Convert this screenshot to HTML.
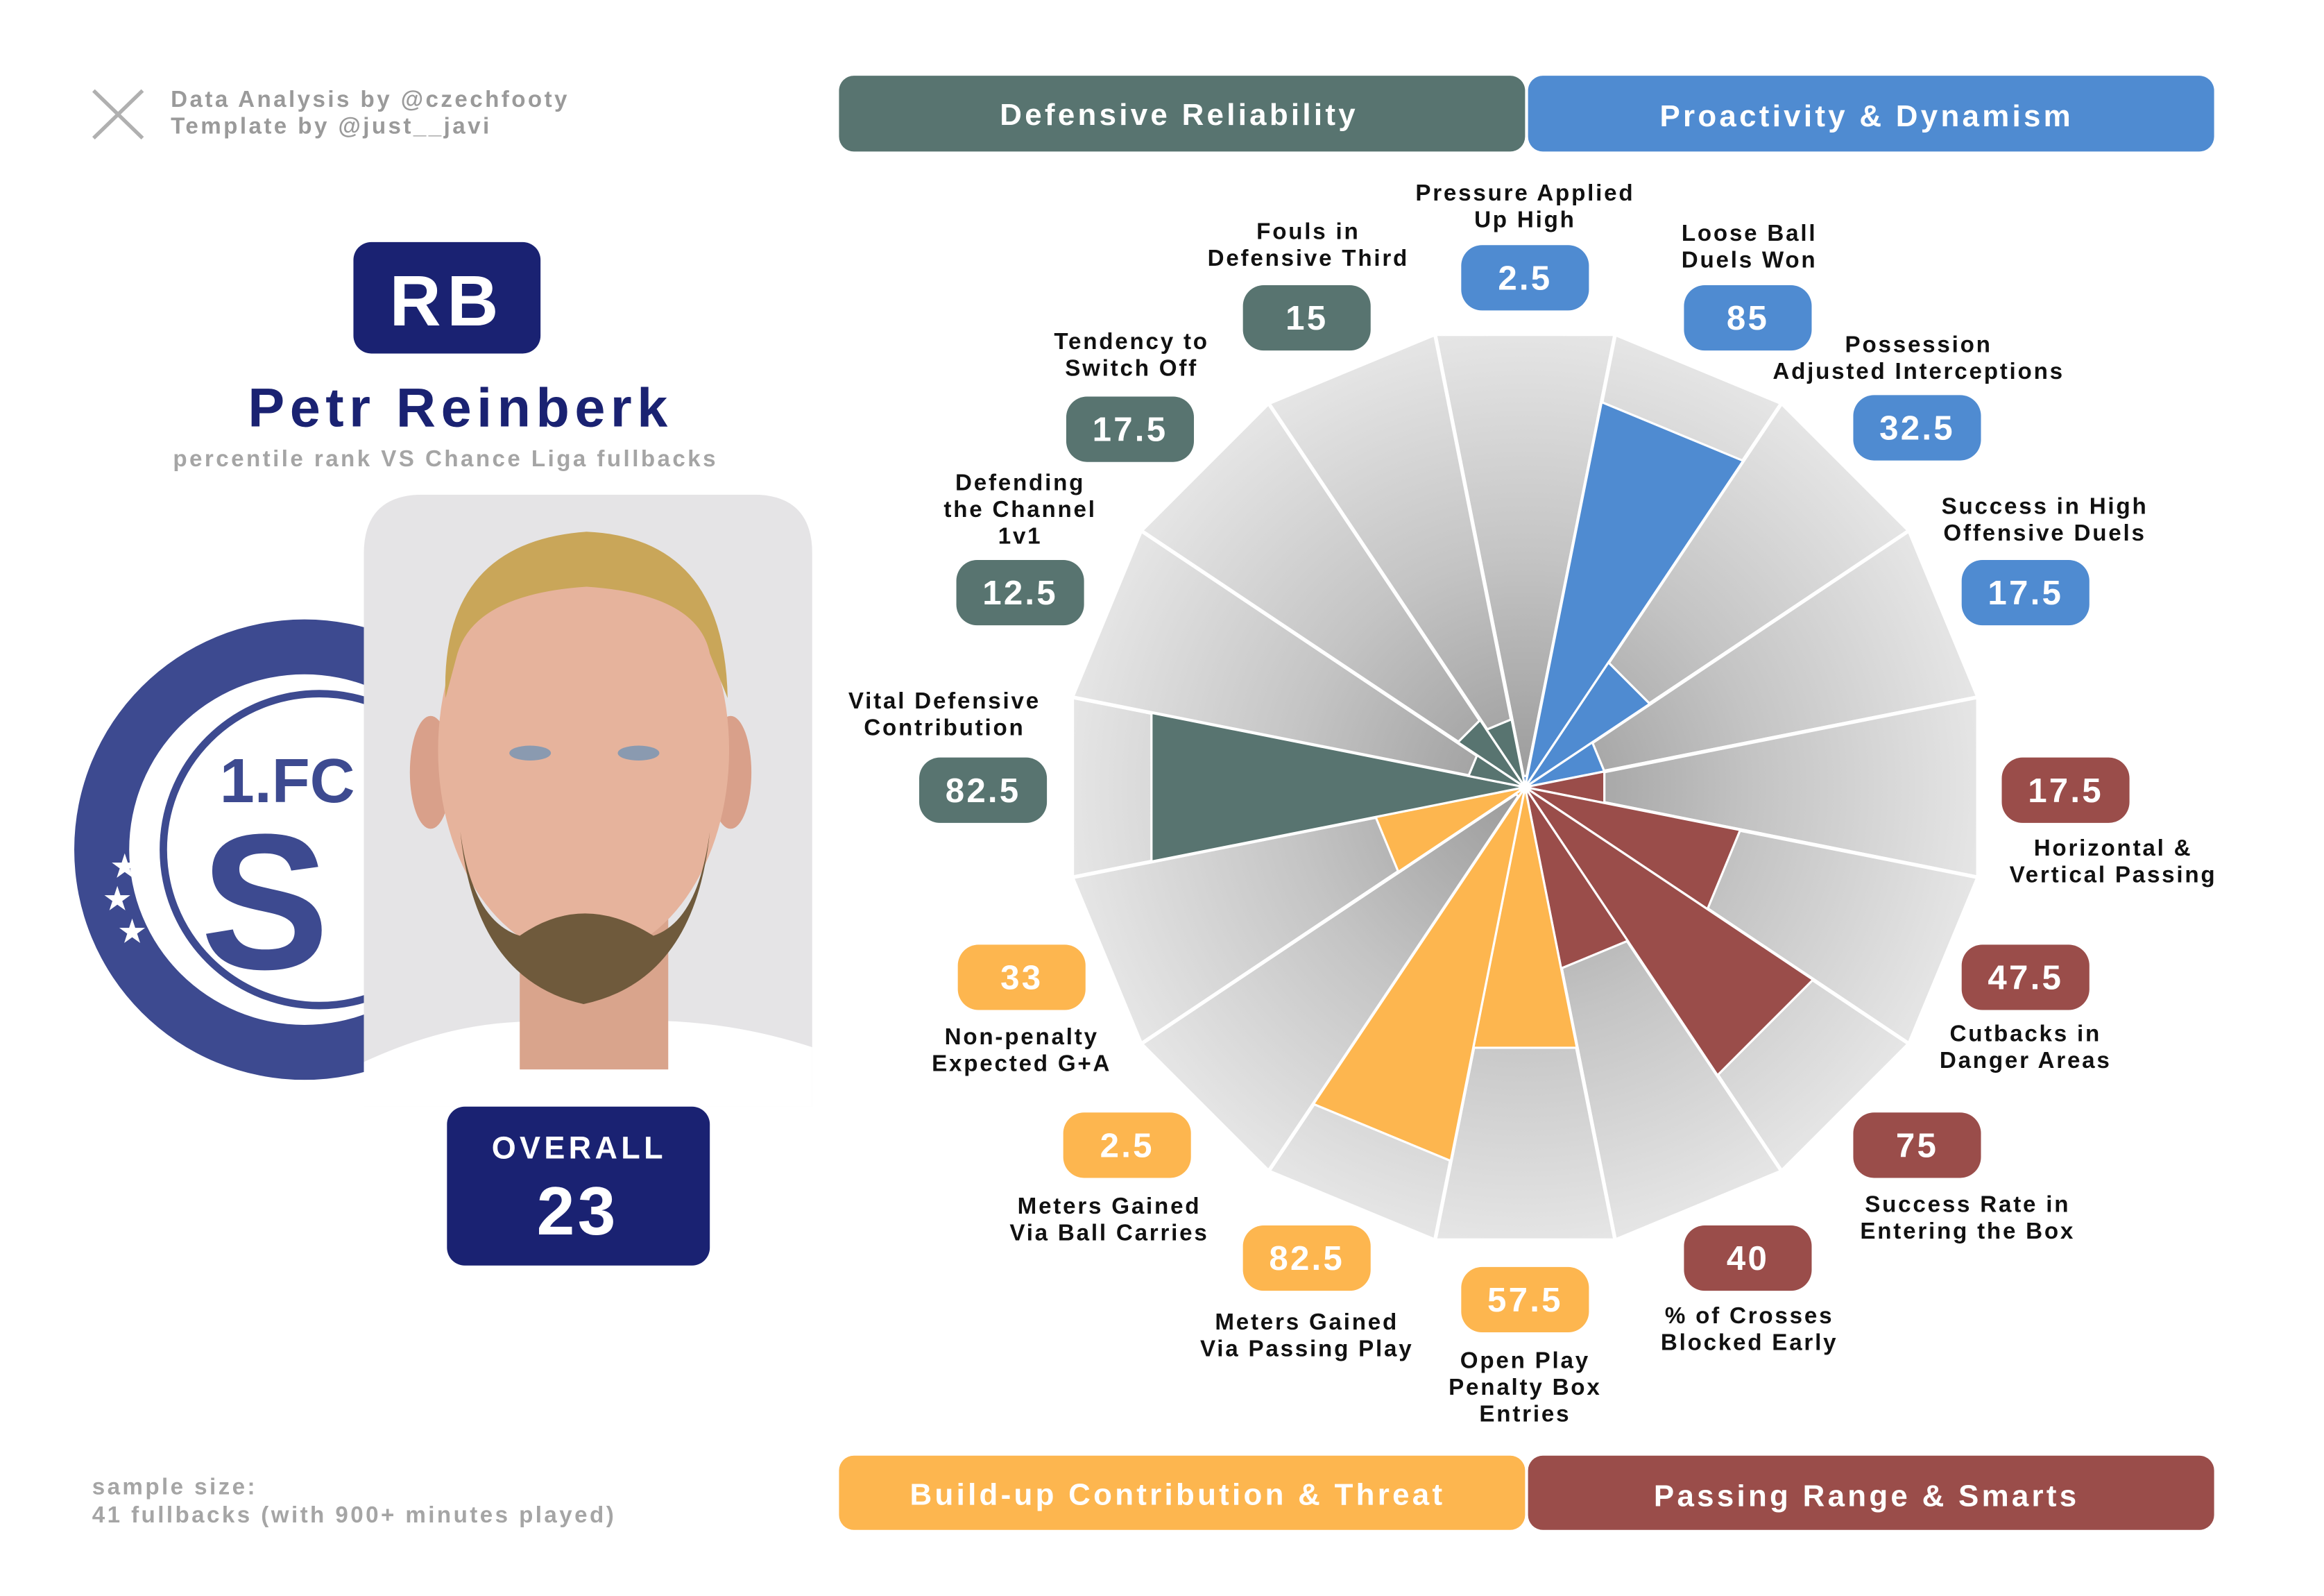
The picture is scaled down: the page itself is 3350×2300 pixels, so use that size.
<!DOCTYPE html>
<html><head><meta charset="utf-8"><style>
html,body{margin:0;padding:0;background:#fff;}
svg{display:block;}
text{font-family:"Liberation Sans",sans-serif;font-weight:bold;}
</style></head><body>
<svg width="3350" height="2300" viewBox="0 0 1565 1074.5" preserveAspectRatio="none" xmlns="http://www.w3.org/2000/svg">
<defs>
<radialGradient id="bg" gradientUnits="userSpaceOnUse" cx="1027" cy="530" r="311">
<stop offset="0" stop-color="#9a9a9a"/><stop offset="0.5" stop-color="#c4c4c4"/><stop offset="1" stop-color="#e6e6e6"/>
</radialGradient>
<clipPath id="badgeclip"><rect x="0" y="0" width="246" height="1064"/></clipPath>
<clipPath id="card"><path d="M245,745 L245,373 Q245,333 285,333 L507,333 Q547,333 547,373 L547,745 Z"/></clipPath>
</defs>

<g fill="none" stroke="#b0b0b0" stroke-width="2.5"><path d="M63,61 L96,93 M96,61 L63,93"/></g>
<text x="115" y="72" font-size="15.5" fill="#9a9a9a" letter-spacing="1.6">Data Analysis by @czechfooty</text>
<text x="115" y="90" font-size="15.5" fill="#9a9a9a" letter-spacing="1.6">Template by @just__javi</text>

<rect x="238" y="163" width="126" height="75" rx="12" fill="#1a2272"/>
<text x="301" y="219" font-size="48" fill="#fff" text-anchor="middle" letter-spacing="4">RB</text>
<text x="310" y="287" font-size="37" fill="#1a2272" text-anchor="middle" letter-spacing="3.5">Petr Reinberk</text>
<text x="300" y="314" font-size="15.5" fill="#a5a5a5" text-anchor="middle" letter-spacing="1.6">percentile rank VS Chance Liga fullbacks</text>

<g clip-path="url(#badgeclip)">
<circle cx="205" cy="572" r="155" fill="#3d4a90"/>
<circle cx="205" cy="572" r="118" fill="#fff"/>
<circle cx="215" cy="572" r="105" fill="none" stroke="#3d4a90" stroke-width="5"/>
<text x="148" y="540" font-size="42" fill="#3d4a90" font-family="Liberation Serif">1.FC</text>
<text x="135" y="652" font-size="130" fill="#3d4a90" font-family="Liberation Serif">S</text>
<text x="75" y="590" font-size="20" fill="#fff">★</text>
<text x="70" y="612" font-size="20" fill="#fff">★</text>
<text x="80" y="634" font-size="20" fill="#fff">★</text>
</g>

<g clip-path="url(#card)">
<rect x="245" y="333" width="302" height="412" fill="#e5e4e6"/>
<path d="M245,745 L245,715 Q320,680 390,690 Q470,680 547,705 L547,745 Z" fill="#fff"/>
<rect x="350" y="600" width="100" height="120" fill="#d9a48c"/>
<ellipse cx="290" cy="520" rx="14" ry="38" fill="#d9a08a"/>
<ellipse cx="492" cy="520" rx="14" ry="38" fill="#d9a08a"/>
<ellipse cx="393" cy="505" rx="98" ry="140" fill="#e6b39c"/>
<path d="M300,470 Q296,365 395,358 Q488,362 490,470 L478,440 Q470,400 395,395 Q320,400 308,440 Z" fill="#c9a659"/>
<path d="M310,560 Q320,660 393,676 Q468,660 478,560 Q470,620 440,630 Q393,600 350,630 Q318,620 310,560 Z" fill="#6f5a3c"/>
<ellipse cx="357" cy="507" rx="14" ry="5" fill="#8a9ab0"/>
<ellipse cx="430" cy="507" rx="14" ry="5" fill="#8a9ab0"/>
</g>
<rect x="301" y="745" width="177" height="107" rx="12" fill="#1a2272"/>
<text x="390" y="780" font-size="21" fill="#fff" text-anchor="middle" letter-spacing="2.5">OVERALL</text>
<text x="389" y="831" font-size="46" fill="#fff" text-anchor="middle" letter-spacing="2">23</text>

<text x="62" y="1006" font-size="15.5" fill="#a5a5a5" letter-spacing="1.6">sample size:</text>
<text x="62" y="1025" font-size="15.5" fill="#a5a5a5" letter-spacing="1.6">41 fullbacks (with 900+ minutes played)</text>

<rect x="565" y="51" width="462" height="51" rx="10" fill="#587470"/>
<rect x="1029" y="51" width="462" height="51" rx="10" fill="#4f8bd1"/>
<rect x="565" y="980" width="462" height="50" rx="10" fill="#fdb64f"/>
<rect x="1029" y="980" width="462" height="50" rx="10" fill="#9a4d4a"/>
<g font-size="20.5" fill="#fff" text-anchor="middle" letter-spacing="2">
<text x="794" y="84">Defensive Reliability</text>
<text x="1257" y="85">Proactivity &amp; Dynamism</text>
<text x="793" y="1013">Build-up Contribution &amp; Threat</text>
<text x="1257" y="1014">Passing Range &amp; Smarts</text>
</g>

<g fill="url(#bg)" stroke="#fff" stroke-width="2.5">
<polygon points="1027,530 966.33,225 1087.67,225" transform="rotate(0 1027 530)"/>
<polygon points="1027,530 966.33,225 1087.67,225" transform="rotate(22.5 1027 530)"/>
<polygon points="1027,530 966.33,225 1087.67,225" transform="rotate(45 1027 530)"/>
<polygon points="1027,530 966.33,225 1087.67,225" transform="rotate(67.5 1027 530)"/>
<polygon points="1027,530 966.33,225 1087.67,225" transform="rotate(90 1027 530)"/>
<polygon points="1027,530 966.33,225 1087.67,225" transform="rotate(112.5 1027 530)"/>
<polygon points="1027,530 966.33,225 1087.67,225" transform="rotate(135 1027 530)"/>
<polygon points="1027,530 966.33,225 1087.67,225" transform="rotate(157.5 1027 530)"/>
<polygon points="1027,530 966.33,225 1087.67,225" transform="rotate(180 1027 530)"/>
<polygon points="1027,530 966.33,225 1087.67,225" transform="rotate(202.5 1027 530)"/>
<polygon points="1027,530 966.33,225 1087.67,225" transform="rotate(225 1027 530)"/>
<polygon points="1027,530 966.33,225 1087.67,225" transform="rotate(247.5 1027 530)"/>
<polygon points="1027,530 966.33,225 1087.67,225" transform="rotate(270 1027 530)"/>
<polygon points="1027,530 966.33,225 1087.67,225" transform="rotate(292.5 1027 530)"/>
<polygon points="1027,530 966.33,225 1087.67,225" transform="rotate(315 1027 530)"/>
<polygon points="1027,530 966.33,225 1087.67,225" transform="rotate(337.5 1027 530)"/>
</g>

<g stroke="#fff" stroke-width="1.5" transform="translate(1027,530)">
<polygon fill="#4f8bd1" points="0,0 -1.5,-7.6 1.5,-7.6" transform="rotate(0)"/>
<polygon fill="#4f8bd1" points="0,0 -51.6,-259.25 51.6,-259.25" transform="rotate(22.5)"/>
<polygon fill="#4f8bd1" points="0,0 -19.7,-99.1 19.7,-99.1" transform="rotate(45)"/>
<polygon fill="#4f8bd1" points="0,0 -10.6,-53.4 10.6,-53.4" transform="rotate(67.5)"/>
<polygon fill="#9a4d4a" points="0,0 -10.6,-53.4 10.6,-53.4" transform="rotate(90)"/>
<polygon fill="#9a4d4a" points="0,0 -28.8,-144.9 28.8,-144.9" transform="rotate(112.5)"/>
<polygon fill="#9a4d4a" points="0,0 -45.5,-228.75 45.5,-228.75" transform="rotate(135)"/>
<polygon fill="#9a4d4a" points="0,0 -24.3,-122 24.3,-122" transform="rotate(157.5)"/>
<polygon fill="#fdb64f" points="0,0 -34.9,-175.4 34.9,-175.4" transform="rotate(180)"/>
<polygon fill="#fdb64f" points="0,0 -50.05,-251.6 50.05,-251.6" transform="rotate(202.5)"/>
<polygon fill="#fdb64f" points="0,0 -1.5,-7.6 1.5,-7.6" transform="rotate(225)"/>
<polygon fill="#fdb64f" points="0,0 -20,-100.65 20,-100.65" transform="rotate(247.5)"/>
<polygon fill="#587470" points="0,0 -50.05,-251.6 50.05,-251.6" transform="rotate(270)"/>
<polygon fill="#587470" points="0,0 -7.6,-38.1 7.6,-38.1" transform="rotate(292.5)"/>
<polygon fill="#587470" points="0,0 -10.6,-53.4 10.6,-53.4" transform="rotate(315)"/>
<polygon fill="#587470" points="0,0 -9.1,-45.75 9.1,-45.75" transform="rotate(337.5)"/>
</g>

<g font-size="15.5" fill="#111" text-anchor="middle" letter-spacing="1.3">
<text x="1027" y="135">Pressure Applied</text><text x="1027" y="153">Up High</text>
<text x="881" y="161">Fouls in</text><text x="881" y="179">Defensive Third</text>
<text x="1178" y="162">Loose Ball</text><text x="1178" y="180">Duels Won</text>
<text x="762" y="235">Tendency to</text><text x="762" y="253">Switch Off</text>
<text x="1292" y="237">Possession</text><text x="1292" y="255">Adjusted Interceptions</text>
<text x="687" y="330">Defending</text><text x="687" y="348">the Channel</text><text x="687" y="366">1v1</text>
<text x="1377" y="346">Success in High</text><text x="1377" y="364">Offensive Duels</text>
<text x="636" y="477">Vital Defensive</text><text x="636" y="495">Contribution</text>
<text x="1423" y="576">Horizontal &amp;</text><text x="1423" y="594">Vertical Passing</text>
<text x="688" y="703">Non-penalty</text><text x="688" y="721">Expected G+A</text>
<text x="1364" y="701">Cutbacks in</text><text x="1364" y="719">Danger Areas</text>
<text x="747" y="817">Meters Gained</text><text x="747" y="835">Via Ball Carries</text>
<text x="1325" y="816">Success Rate in</text><text x="1325" y="834">Entering the Box</text>
<text x="880" y="895">Meters Gained</text><text x="880" y="913">Via Passing Play</text>
<text x="1178" y="891">% of Crosses</text><text x="1178" y="909">Blocked Early</text>
<text x="1027" y="921">Open Play</text><text x="1027" y="939">Penalty Box</text><text x="1027" y="957">Entries</text>
</g>

<g>
<rect x="984" y="165" width="86" height="44" rx="14" fill="#4f8bd1"/>
<rect x="837" y="192" width="86" height="44" rx="14" fill="#587470"/>
<rect x="1134" y="192" width="86" height="44" rx="14" fill="#4f8bd1"/>
<rect x="718" y="267" width="86" height="44" rx="14" fill="#587470"/>
<rect x="1248" y="266" width="86" height="44" rx="14" fill="#4f8bd1"/>
<rect x="644" y="377" width="86" height="44" rx="14" fill="#587470"/>
<rect x="1321" y="377" width="86" height="44" rx="14" fill="#4f8bd1"/>
<rect x="619" y="510" width="86" height="44" rx="14" fill="#587470"/>
<rect x="1348" y="510" width="86" height="44" rx="14" fill="#9a4d4a"/>
<rect x="645" y="636" width="86" height="44" rx="14" fill="#fdb64f"/>
<rect x="1321" y="636" width="86" height="44" rx="14" fill="#9a4d4a"/>
<rect x="716" y="749" width="86" height="44" rx="14" fill="#fdb64f"/>
<rect x="1248" y="749" width="86" height="44" rx="14" fill="#9a4d4a"/>
<rect x="837" y="825" width="86" height="44" rx="14" fill="#fdb64f"/>
<rect x="1134" y="825" width="86" height="44" rx="14" fill="#9a4d4a"/>
<rect x="984" y="853" width="86" height="44" rx="14" fill="#fdb64f"/>
</g>
<g font-size="23" fill="#fff" text-anchor="middle" letter-spacing="1.5">
<text x="1027" y="195">2.5</text>
<text x="880" y="222">15</text>
<text x="1177" y="222">85</text>
<text x="761" y="297">17.5</text>
<text x="1291" y="296">32.5</text>
<text x="687" y="407">12.5</text>
<text x="1364" y="407">17.5</text>
<text x="662" y="540">82.5</text>
<text x="1391" y="540">17.5</text>
<text x="688" y="666">33</text>
<text x="1364" y="666">47.5</text>
<text x="759" y="779">2.5</text>
<text x="1291" y="779">75</text>
<text x="880" y="855">82.5</text>
<text x="1177" y="855">40</text>
<text x="1027" y="883">57.5</text>
</g>
</svg>
</body></html>
